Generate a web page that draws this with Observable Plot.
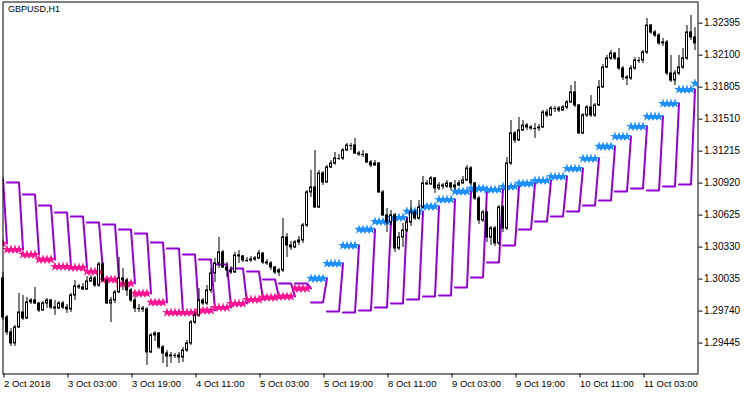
<!DOCTYPE html>
<html>
<head>
<meta charset="utf-8">
<script src="https://cdn.jsdelivr.net/npm/d3@7"></script>
<script src="https://cdn.jsdelivr.net/npm/@observablehq/plot@0.6"></script>
<style>
  html, body { margin: 0; padding: 0; background: #fff; }
  #chart svg { display: block; }
</style>
</head>
<body>
<div id="chart"></div>
<script>
const title = "GBPUSD,H1";

const xTicks = [0, 16, 32, 48, 64, 80, 96, 112, 128, 144, 160];
const xTickLabels = ["2 Oct 2018", "3 Oct 03:00", "3 Oct 19:00", "4 Oct 11:00", "5 Oct 03:00",
  "5 Oct 19:00", "8 Oct 11:00", "9 Oct 03:00", "9 Oct 19:00", "10 Oct 11:00", "11 Oct 03:00"];
const yTicks = [1.32395, 1.32100, 1.31805, 1.31510, 1.31215, 1.30920, 1.30625, 1.30330, 1.30035, 1.29740, 1.29445];

const open = [
1.30041,1.29681,1.29543,1.29442,1.29589,1.29727,1.29672,1.29820,1.29838,1.29810,
1.29746,1.29810,1.29838,1.29773,1.29764,1.29810,1.29773,1.29755,1.29884,1.29967,
1.29958,1.29939,1.30013,1.30041,1.29976,1.30170,1.30022,1.29810,1.29838,1.29912,
1.30041,1.30022,1.29930,1.29838,1.29764,1.29764,1.29755,1.29359,1.29515,1.29534,
1.29405,1.29349,1.29322,1.29331,1.29331,1.29312,1.29377,1.29442,1.29635,1.29700,
1.29838,1.29810,1.29930,1.30087,1.30179,1.30281,1.30142,1.30115,1.30096,1.30253,
1.30244,1.30207,1.30207,1.30216,1.30225,1.30271,1.30188,1.30179,1.30142,1.30096,
1.30115,1.30419,1.30345,1.30327,1.30373,1.30391,1.30529,1.30834,1.30880,1.30695,
1.31009,1.30926,1.31064,1.31101,1.31147,1.31147,1.31221,1.31267,1.31267,1.31193,
1.31184,1.31184,1.31110,1.31083,1.31101,1.30834,1.30622,1.30557,1.30622,1.30317,
1.30419,1.30483,1.30557,1.30649,1.30594,1.30695,1.30917,1.30908,1.30963,1.30871,
1.30898,1.30889,1.30917,1.30880,1.30898,1.30917,1.30944,1.31055,1.30917,1.30778,
1.30576,1.30649,1.30419,1.30502,1.30364,1.30695,1.30502,1.31101,1.31378,1.31313,
1.31405,1.31451,1.31433,1.31424,1.31424,1.31433,1.31571,1.31544,1.31608,1.31608,
1.31590,1.31617,1.31664,1.31756,1.31636,1.31378,1.31544,1.31617,1.31544,1.31636,
1.31802,1.31986,1.32069,1.32115,1.32069,1.31977,1.31894,1.31885,1.31977,1.32051,
1.32051,1.32125,1.32373,1.32309,1.32281,1.32208,1.32217,1.31931,1.31866,1.31931,
1.31986,1.32069,1.32309,1.32263];

const high = [
1.30096,1.29700,1.29580,1.29607,1.29903,1.29884,1.29866,1.29856,1.29958,1.29820,
1.29829,1.29856,1.29847,1.29838,1.29829,1.29829,1.29801,1.29903,1.30022,1.29986,
1.29995,1.30059,1.30068,1.30059,1.30188,1.30188,1.30032,1.29866,1.29930,1.30234,
1.30133,1.30041,1.29949,1.29875,1.29801,1.29783,1.29773,1.29534,1.29552,1.29543,
1.29423,1.29377,1.29359,1.29349,1.29359,1.29405,1.29469,1.29654,1.29727,1.29949,
1.29856,1.29976,1.30133,1.30225,1.30419,1.30299,1.30188,1.30151,1.30281,1.30299,
1.30253,1.30234,1.30244,1.30244,1.30299,1.30281,1.30216,1.30198,1.30151,1.30133,
1.30594,1.30456,1.30382,1.30391,1.30428,1.30548,1.30852,1.31037,1.31221,1.31037,
1.31027,1.31083,1.31129,1.31203,1.31184,1.31239,1.31286,1.31286,1.31332,1.31212,
1.31221,1.31193,1.31129,1.31129,1.31110,1.30852,1.30686,1.30668,1.30640,1.30465,
1.30548,1.30594,1.30760,1.30668,1.30760,1.30981,1.30944,1.30981,1.30972,1.30926,
1.30917,1.30944,1.30926,1.30944,1.30944,1.30981,1.31083,1.31073,1.30926,1.30797,
1.30668,1.30659,1.30520,1.30520,1.30714,1.30714,1.31156,1.31498,1.31396,1.31525,
1.31498,1.31470,1.31451,1.31470,1.31461,1.31590,1.31599,1.31627,1.31627,1.31627,
1.31636,1.31682,1.31820,1.31857,1.31645,1.31562,1.31636,1.31728,1.31654,1.31866,
1.32014,1.32097,1.32143,1.32125,1.32161,1.31995,1.31912,1.32005,1.32078,1.32078,
1.32143,1.32438,1.32383,1.32327,1.32300,1.32254,1.32235,1.32097,1.31959,1.32097,
1.32161,1.32373,1.32466,1.32355];

const low = [
1.29654,1.29515,1.29414,1.29414,1.29580,1.29654,1.29663,1.29801,1.29801,1.29727,
1.29737,1.29764,1.29755,1.29700,1.29755,1.29755,1.29718,1.29727,1.29838,1.29939,
1.29930,1.29930,1.30004,1.29958,1.29958,1.30004,1.29801,1.29635,1.29810,1.29903,
1.29930,1.29875,1.29820,1.29727,1.29727,1.29727,1.29239,1.29349,1.29460,1.29386,
1.29257,1.29220,1.29257,1.29303,1.29257,1.29266,1.29359,1.29423,1.29617,1.29681,
1.29792,1.29792,1.29903,1.30004,1.30133,1.30133,1.30050,1.30078,1.30087,1.30179,
1.30188,1.30188,1.30188,1.30198,1.30216,1.30170,1.30161,1.30115,1.30078,1.30059,
1.30096,1.30234,1.30299,1.30317,1.30345,1.30364,1.30511,1.30788,1.30686,1.30686,
1.30898,1.30917,1.31055,1.31083,1.31129,1.31129,1.31212,1.31221,1.31184,1.31166,
1.31156,1.31101,1.31064,1.31073,1.30825,1.30612,1.30465,1.30529,1.30281,1.30299,
1.30327,1.30465,1.30520,1.30576,1.30576,1.30686,1.30898,1.30898,1.30825,1.30852,
1.30861,1.30871,1.30852,1.30852,1.30889,1.30908,1.30935,1.30898,1.30760,1.30539,
1.30557,1.30373,1.30345,1.30336,1.30345,1.30465,1.30483,1.31083,1.31286,1.31304,
1.31396,1.31405,1.31405,1.31332,1.31396,1.31424,1.31525,1.31534,1.31571,1.31571,
1.31581,1.31599,1.31654,1.31617,1.31369,1.31369,1.31525,1.31525,1.31525,1.31627,
1.31793,1.31977,1.32051,1.32051,1.31959,1.31866,1.31820,1.31866,1.31959,1.32023,
1.32023,1.32106,1.32291,1.32263,1.32189,1.32180,1.31912,1.31848,1.31820,1.31912,
1.31968,1.32051,1.32235,1.32143];

const close = [
1.29681,1.29543,1.29442,1.29589,1.29727,1.29672,1.29820,1.29838,1.29810,1.29746,
1.29810,1.29838,1.29773,1.29764,1.29810,1.29773,1.29755,1.29884,1.29967,1.29958,
1.29939,1.30013,1.30041,1.29976,1.30170,1.30022,1.29810,1.29838,1.29912,1.30041,
1.30022,1.29930,1.29838,1.29764,1.29764,1.29755,1.29359,1.29515,1.29534,1.29405,
1.29349,1.29322,1.29331,1.29331,1.29312,1.29377,1.29442,1.29635,1.29700,1.29838,
1.29810,1.29930,1.30087,1.30179,1.30281,1.30142,1.30115,1.30096,1.30253,1.30244,
1.30207,1.30207,1.30216,1.30225,1.30271,1.30188,1.30179,1.30142,1.30096,1.30115,
1.30419,1.30345,1.30327,1.30373,1.30391,1.30529,1.30834,1.30880,1.30695,1.31009,
1.30926,1.31064,1.31101,1.31147,1.31147,1.31221,1.31267,1.31267,1.31193,1.31184,
1.31184,1.31110,1.31083,1.31101,1.30834,1.30622,1.30557,1.30622,1.30317,1.30419,
1.30483,1.30557,1.30649,1.30594,1.30695,1.30917,1.30908,1.30963,1.30871,1.30898,
1.30889,1.30917,1.30880,1.30898,1.30917,1.30944,1.31055,1.30917,1.30778,1.30576,
1.30649,1.30419,1.30502,1.30364,1.30695,1.30502,1.31101,1.31378,1.31313,1.31405,
1.31451,1.31433,1.31424,1.31424,1.31433,1.31571,1.31544,1.31608,1.31608,1.31590,
1.31617,1.31664,1.31756,1.31636,1.31378,1.31544,1.31617,1.31544,1.31636,1.31802,
1.31986,1.32069,1.32115,1.32069,1.31977,1.31894,1.31885,1.31977,1.32051,1.32051,
1.32125,1.32373,1.32309,1.32281,1.32208,1.32217,1.31931,1.31866,1.31931,1.31986,
1.32069,1.32309,1.32263,1.32208];

// indicator: one step every 4 bars (first bar of each step)
const stepStartBar = [-3,1,5,9,13,17,21,25,29,33,37,41,45,49,53,57,61,65,69,73,77,81,85,89,93,
  97,101,105,109,113,117,121,125,129,133,137,141,145,149,153,157,161,165,169,173];
// signal level (stars)
const stepSignal = [1.30364,1.30308,1.30262,1.30216,1.30151,1.30142,1.30105,1.30032,1.29995,1.29903,
  1.29820,1.29727,1.29727,1.29746,1.29773,1.29810,1.29847,1.29866,1.29875,1.29949,
  1.30041,1.30179,1.30345,1.30493,1.30566,1.30603,1.30659,1.30705,1.30769,1.30843,
  1.30871,1.30861,1.30889,1.30917,1.30944,1.30981,1.31055,1.31147,1.31258,1.31350,
  1.31442,1.31534,1.31654,1.31783,1.31839];
// band level (purple steps)
const stepBand = [1.30963,1.30926,1.30815,1.30714,1.30649,1.30612,1.30557,1.30539,1.30493,1.30456,
  1.30373,1.30317,1.30262,1.30216,1.30170,1.30133,1.30105,1.30032,1.29995,1.29995,
  1.29820,1.29737,1.29727,1.29746,1.29773,1.29810,1.29847,1.29875,1.29884,1.29958,
  1.30050,1.30188,1.30345,1.30493,1.30566,1.30612,1.30659,1.30714,1.30760,1.30843,
  1.30871,1.30852,1.30889,1.30908,null];

const PINK = "#FF1493", BLUE = "#1E90FF", PURPLE = "#9400D3";
const nBars = close.length;

const bars = close.map((c, i) => ({i, open: open[i], high: high[i], low: low[i], close: c}));
const bodies = bars.filter(d => Math.abs(d.open - d.close) > 0.000015);
const dojis = bars.filter(d => Math.abs(d.open - d.close) <= 0.000015);

const starsDown = [], starsUp = [], bandPts = [];
let lastDown = true;
stepStartBar.forEach((a, k) => {
  const s = stepSignal[k], b = stepBand[k];
  const down = b == null ? lastDown : b > s;
  lastDown = down;
  for (let j = 0; j < 4; j++) {
    const i = a + j;
    if (i >= 0 && i < nBars) (down ? starsDown : starsUp).push({i, v: s});
  }
  if (b != null) {
    bandPts.push({k, i: a, v: b}, {k, i: a + 3, v: b}, {k, i: a + 4, v: s});
  }
});

const chart = Plot.plot({
  width: 750,
  height: 394,
  marginLeft: 2.5,
  marginRight: 52.5,
  marginTop: 1.5,
  marginBottom: 20.5,
  style: {fontFamily: "'Liberation Sans', Arial, sans-serif", fontSize: "10px", background: "#fff", color: "#000"},
  x: {domain: [0, 173.75], axis: null},
  y: {domain: [1.29160, 1.32590], axis: null},
  marks: [
    Plot.line(bandPts, {x: "i", y: "v", z: "k", stroke: PURPLE, strokeWidth: 2, clip: true}),
    Plot.dot(starsDown, {x: "i", y: "v", symbol: "star", r: 3.1, fill: PINK, stroke: "none", clip: true}),
    Plot.dot(starsUp, {x: "i", y: "v", symbol: "star", r: 3.1, fill: BLUE, stroke: "none", clip: true}),
    Plot.ruleX(bars, {x: "i", y1: "low", y2: "high", stroke: "#000", strokeWidth: 1}),
    Plot.rect(bodies, {x1: d => d.i - 0.25, x2: d => d.i + 0.25, y1: "open", y2: "close",
      fill: d => d.close > d.open ? "#fff" : "#000", stroke: "#000", strokeWidth: 1}),
    Plot.ruleY(dojis, {x1: d => d.i - 0.375, x2: d => d.i + 0.375, y: "close", stroke: "#000", strokeWidth: 1}),
    Plot.frame({stroke: "#000"}),
    Plot.axisY({anchor: "right", ticks: yTicks, tickSize: 4, tickPadding: 2, label: null,
      tickFormat: d => d.toFixed(5), fontSize: 10}),
    Plot.axisX({anchor: "bottom", ticks: xTicks, tickSize: 4, tickPadding: 2, label: null,
      tickFormat: d => xTickLabels[xTicks.indexOf(d)], textAnchor: "start", dx: 1, fontSize: 9.5}),
    Plot.text([title], {frameAnchor: "top-left", dx: 5, dy: 4, lineAnchor: "top", fontSize: 9, text: d => d, fill: "#000"})
  ]
});
document.getElementById("chart").appendChild(chart);
</script>
</body>
</html>
